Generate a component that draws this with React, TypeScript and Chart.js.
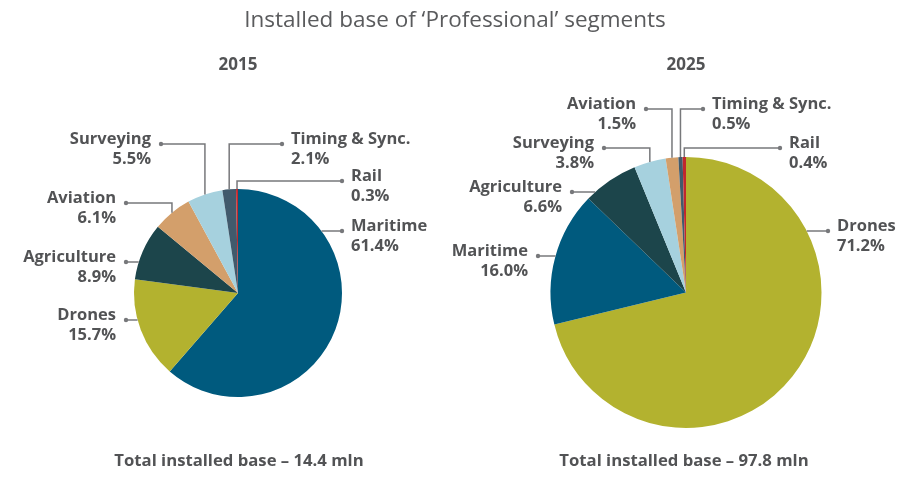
import React, { useEffect, useRef } from "react";
import { Chart, registerables } from "chart.js";

Chart.register(...registerables);

// ---------- data ----------
const chartTitle = "Installed base of \u2018Professional\u2019 segments";
const years = ["2015", "2025"];
const totals = ["Total installed base \u2013 14.4 mln", "Total installed base \u2013 97.8 mln"];

const segments2015 = ["Maritime", "Drones", "Agriculture", "Aviation", "Surveying", "Timing & Sync.", "Rail"];
const values2015 = [61.4, 15.7, 8.9, 6.1, 5.5, 2.1, 0.3];

const segments2025 = ["Drones", "Maritime", "Agriculture", "Surveying", "Aviation", "Timing & Sync.", "Rail"];
const values2025 = [71.2, 16.0, 6.6, 3.8, 1.5, 0.5, 0.4];

// ---------- styles ----------
const segmentColors: Record<string, string> = {
  Maritime: "#005a7e",
  Drones: "#b3b22f",
  Agriculture: "#1c454b",
  Aviation: "#d39f6b",
  Surveying: "#a6d1de",
  "Timing & Sync.": "#415a6c",
  Rail: "#c1272d",
};

const TEXT = "#525355";
const TITLE = "#5a5b5d";
const LINE = "#77787b";
const FONT = "'Open Sans', sans-serif";

type LabelLayout = { dx: number; dy: number; side: "left" | "right"; leader: "elbow" | "horizontal" };

// label anchor (dot) positions, page coordinates
const layout2015: LabelLayout[] = [
  { dx: 342, dy: 231, side: "right", leader: "horizontal" },
  { dx: 126, dy: 320, side: "left", leader: "horizontal" },
  { dx: 126, dy: 262, side: "left", leader: "horizontal" },
  { dx: 126, dy: 203, side: "left", leader: "elbow" },
  { dx: 161, dy: 144, side: "left", leader: "elbow" },
  { dx: 282, dy: 144, side: "right", leader: "elbow" },
  { dx: 342, dy: 181, side: "right", leader: "elbow" },
];

const layout2025: LabelLayout[] = [
  { dx: 828, dy: 231, side: "right", leader: "horizontal" },
  { dx: 538, dy: 256, side: "left", leader: "horizontal" },
  { dx: 572, dy: 192, side: "left", leader: "horizontal" },
  { dx: 604, dy: 148, side: "left", leader: "elbow" },
  { dx: 646, dy: 109, side: "left", leader: "elbow" },
  { dx: 703, dy: 109, side: "right", leader: "elbow" },
  { dx: 780, dy: 148, side: "right", leader: "elbow" },
];

type PieSpec = {
  labels: string[];
  values: number[];
  layout: LabelLayout[];
  padding: { left: number; right: number; top: number; bottom: number };
  year: string;
  yearX: number;
  total: string;
  totalX: number;
  drawTitle: boolean;
};

const pies: PieSpec[] = [
  {
    labels: segments2015,
    values: values2015,
    layout: layout2015,
    padding: { left: 134, right: 578, top: 189, bottom: 86 },
    year: years[0],
    yearX: 238,
    total: totals[0],
    totalX: 239,
    drawTitle: true,
  },
  {
    labels: segments2025,
    values: values2025,
    layout: layout2025,
    padding: { left: 550, right: 98, top: 157, bottom: 55 },
    year: years[1],
    yearX: 686,
    total: totals[1],
    totalX: 684,
    drawTitle: false,
  },
];

function makeLabelPlugin(spec: PieSpec) {
  return {
    id: "pieLabels",
    afterDraw(chart: any) {
      const ctx: CanvasRenderingContext2D = chart.ctx;
      const meta = chart.getDatasetMeta(0);
      ctx.save();
      // header / footer text
      ctx.textBaseline = "middle";
      ctx.textAlign = "center";
      if (spec.drawTitle) {
        ctx.fillStyle = TITLE;
        ctx.font = `400 22.5px ${FONT}`;
        ctx.fillText(chartTitle, 455, 21);
      }
      ctx.fillStyle = TEXT;
      ctx.font = `700 17px ${FONT}`;
      ctx.fillText(spec.year, spec.yearX, 65);
      ctx.font = `700 16.7px ${FONT}`;
      ctx.fillText(spec.total, spec.totalX, 461);

      // leader lines and labels
      meta.data.forEach((arc: any, i: number) => {
        const L = spec.layout[i];
        if (!L) return;
        const { x, y, startAngle, endAngle, outerRadius } = arc.getProps(
          ["x", "y", "startAngle", "endAngle", "outerRadius"],
          true
        );
        const r = outerRadius;
        ctx.strokeStyle = LINE;
        ctx.lineWidth = 1.5;
        ctx.beginPath();
        if (L.leader === "elbow") {
          const a = (startAngle + endAngle) / 2;
          const vx = x + r * Math.cos(a);
          const vy = y + r * Math.sin(a);
          ctx.moveTo(vx, vy);
          ctx.lineTo(vx, L.dy);
          ctx.lineTo(L.dx, L.dy);
        } else {
          const ddy = L.dy - y;
          const ddx = Math.sqrt(Math.max(r * r - ddy * ddy, 0)) * (L.side === "right" ? 1 : -1);
          ctx.moveTo(x + ddx, L.dy);
          ctx.lineTo(L.dx, L.dy);
        }
        ctx.stroke();
        ctx.fillStyle = LINE;
        ctx.beginPath();
        ctx.arc(L.dx, L.dy, 2.2, 0, Math.PI * 2);
        ctx.fill();

        ctx.fillStyle = TEXT;
        ctx.font = `700 16.5px ${FONT}`;
        ctx.textBaseline = "middle";
        let tx: number;
        if (L.side === "left") {
          ctx.textAlign = "right";
          tx = L.dx - 10;
        } else {
          ctx.textAlign = "left";
          tx = L.dx + 9;
        }
        ctx.fillText(spec.labels[i], tx, L.dy - 5);
        ctx.fillText(spec.values[i].toFixed(1) + "%", tx, L.dy + 15);
      });
      ctx.restore();
    },
  };
}

function PieCanvas({ spec }: { spec: PieSpec }) {
  const ref = useRef<HTMLCanvasElement | null>(null);
  useEffect(() => {
    if (!ref.current) return;
    const chart = new Chart(ref.current, {
      type: "pie",
      data: {
        labels: spec.labels,
        datasets: [
          {
            data: spec.values,
            backgroundColor: spec.labels.map((l) => segmentColors[l]),
            borderWidth: 0,
          },
        ],
      },
      options: {
        responsive: false,
        animation: false,
        devicePixelRatio: 1,
        layout: { padding: spec.padding },
        plugins: {
          legend: { display: false },
          tooltip: { enabled: false },
          title: { display: false },
        },
      },
      plugins: [makeLabelPlugin(spec)],
    } as any);
    return () => chart.destroy();
  }, [spec]);
  return (
    <canvas
      ref={ref}
      width={920}
      height={483}
      style={{ position: "absolute", left: 0, top: 0, width: 920, height: 483 }}
    />
  );
}

export default function App() {
  return (
    <div
      style={{
        position: "fixed",
        left: 0,
        top: 0,
        width: 920,
        height: 483,
        background: "#ffffff",
        overflow: "hidden",
      }}
    >
      {pies.map((p, i) => (
        <PieCanvas key={i} spec={p} />
      ))}
    </div>
  );
}
